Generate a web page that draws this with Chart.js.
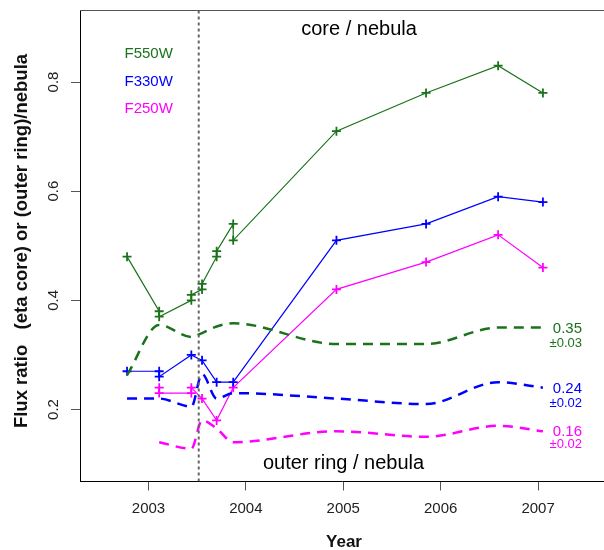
<!DOCTYPE html>
<html>
<head>
<meta charset="utf-8">
<script src="https://cdn.jsdelivr.net/npm/chart.js"></script>
<style>
  body { margin: 0; background: #fff; }
  canvas { display: block; }
</style>
</head>
<body>
<canvas id="fluxChart" width="604" height="550"></canvas>
<script>
// core / nebula (solid, + markers)
const f550Years = [2002.78, 2003.11, 2003.11, 2003.44, 2003.44, 2003.55, 2003.55, 2003.70, 2003.70, 2003.87, 2003.87, 2004.93, 2005.85, 2006.59, 2007.05];
const f550Core = [0.48, 0.38, 0.37, 0.40, 0.41, 0.42, 0.43, 0.48, 0.49, 0.54, 0.51, 0.71, 0.78, 0.83, 0.78];

const f330Years = [2002.78, 2003.11, 2003.11, 2003.44, 2003.55, 2003.70, 2003.87, 2004.93, 2005.85, 2006.59, 2007.05];
const f330Core = [0.27, 0.27, 0.26, 0.30, 0.29, 0.25, 0.25, 0.51, 0.54, 0.59, 0.58];

const f250Years = [2003.11, 2003.11, 2003.44, 2003.44, 2003.55, 2003.70, 2003.87, 2004.93, 2005.85, 2006.59, 2007.05];
const f250Core = [0.24, 0.23, 0.23, 0.24, 0.22, 0.18, 0.24, 0.42, 0.47, 0.52, 0.46];

// outer ring / nebula (dashed)
const ringYears = [2002.78, 2003.11, 2003.44, 2003.55, 2003.70, 2003.87, 2004.93, 2005.85, 2006.59, 2007.05];
const f550Ring = [0.263, 0.355, 0.333, 0.34, 0.352, 0.358, 0.32, 0.32, 0.35, 0.35];
const f330Ring = [0.22, 0.22, 0.205, 0.265, 0.22, 0.23, 0.22, 0.21, 0.25, 0.24];
const f250RingYears = [2003.11, 2003.44, 2003.55, 2003.70, 2003.87, 2004.93, 2005.85, 2006.59, 2007.05];
const f250Ring = [0.14, 0.128, 0.18, 0.165, 0.14, 0.16, 0.15, 0.17, 0.16];

const dividerYear = 2003.516;
const xTicks = [2003, 2004, 2005, 2006, 2007];
const yTicks = [0.2, 0.4, 0.6, 0.8];
const xMin = 2002.297, xMax = 2007.677;
const yMin = 0.068, yMax = 0.932;

const GREEN = "#1a731a";
const BLUE = "#0000ff";
const MAGENTA = "#ff00ff";
const FONT = '"Liberation Sans", Arial, Helvetica, sans-serif';

const pts = (xs, ys) => xs.map((x, i) => ({ x: x, y: ys[i] }));

const coreSet = (label, xs, ys, color) => ({
  label: label,
  data: pts(xs, ys),
  showLine: true,
  borderColor: color,
  borderWidth: 1.2,
  pointStyle: "cross",
  pointRadius: 4.5,
  pointBorderWidth: 1.8,
  pointBorderColor: color,
  tension: 0,
});

const ringSet = (label, xs, ys, color) => ({
  label: label,
  data: pts(xs, ys),
  showLine: true,
  borderColor: color,
  borderWidth: 2.5,
  borderDash: [10, 7],
  pointRadius: 0,
  cubicInterpolationMode: "monotone",
});

// texts placed on the plot (R text() calls in the original)
const notes = [
  { text: "core / nebula", x: 359, y: 29, color: "#000", size: 20, align: "center" },
  { text: "outer ring / nebula", x: 343.5, y: 463, color: "#000", size: 20, align: "center" },
  { text: "F550W", x: 124.5, y: 54, color: GREEN, size: 15, align: "left" },
  { text: "F330W", x: 124.5, y: 82, color: BLUE, size: 15, align: "left" },
  { text: "F250W", x: 124.5, y: 109, color: MAGENTA, size: 15, align: "left" },
  { text: "0.35", x: 582, y: 328.5, color: GREEN, size: 15, align: "right" },
  { text: "±0.03", x: 582, y: 343, color: GREEN, size: 13, align: "right" },
  { text: "0.24", x: 582, y: 388.5, color: BLUE, size: 15, align: "right" },
  { text: "±0.02", x: 582, y: 403.5, color: BLUE, size: 13, align: "right" },
  { text: "0.16", x: 582, y: 431.5, color: MAGENTA, size: 15, align: "right" },
  { text: "±0.02", x: 582, y: 444.5, color: MAGENTA, size: 13, align: "right" },
];

const extras = {
  id: "extras",
  afterDraw(chart) {
    const ctx = chart.ctx;
    const area = chart.chartArea;
    const yScale = chart.scales.y;
    ctx.save();
    // top frame line
    ctx.strokeStyle = "#555";
    ctx.lineWidth = 1;
    ctx.beginPath();
    ctx.moveTo(area.left, area.top + 0.5);
    ctx.lineTo(area.right, area.top + 0.5);
    ctx.stroke();

    // y tick labels, rotated like R's default
    ctx.fillStyle = "#222";
    ctx.font = "15px " + FONT;
    ctx.textAlign = "center";
    ctx.textBaseline = "middle";
    yTicks.forEach((v) => {
      ctx.save();
      ctx.translate(53.5, yScale.getPixelForValue(v));
      ctx.rotate(-Math.PI / 2);
      ctx.fillText(v.toFixed(1), 0, 0);
      ctx.restore();
    });

    // axis titles
    ctx.fillStyle = "#111";
    ctx.font = "bold 18.5px " + FONT;
    ctx.save();
    ctx.translate(21.5, 241);
    ctx.rotate(-Math.PI / 2);
    ctx.fillText("Flux ratio   (eta core) or (outer ring)/nebula", 0, 0);
    ctx.restore();
    ctx.font = "bold 17px " + FONT;
    ctx.fillText("Year", 344, 542.5);

    notes.forEach((n) => {
      ctx.fillStyle = n.color;
      ctx.font = n.size + "px " + FONT;
      ctx.textAlign = n.align;
      ctx.fillText(n.text, n.x, n.y);
    });
    ctx.restore();
  },
};

const chart = new Chart(document.querySelector("#fluxChart"), {
  type: "scatter",
  data: {
    datasets: [
      {
        label: "divider",
        data: [{ x: dividerYear, y: yMin }, { x: dividerYear, y: yMax }],
        showLine: true,
        borderColor: "#666",
        borderWidth: 2,
        borderDash: [3, 3],
        pointRadius: 0,
      },
      ringSet("F550W ring", ringYears, f550Ring, GREEN),
      ringSet("F330W ring", ringYears, f330Ring, BLUE),
      ringSet("F250W ring", f250RingYears, f250Ring, MAGENTA),
      coreSet("F550W core", f550Years, f550Core, GREEN),
      coreSet("F330W core", f330Years, f330Core, BLUE),
      coreSet("F250W core", f250Years, f250Core, MAGENTA),
    ],
  },
  options: {
    responsive: false,
    animation: false,
    layout: { autoPadding: false, padding: { top: 10, right: 0, bottom: 0, left: 0 } },
    plugins: {
      legend: { display: false },
      tooltip: { enabled: false },
    },
    scales: {
      x: {
        type: "linear",
        min: xMin,
        max: xMax,
        afterBuildTicks: (s) => { s.ticks = xTicks.map((v) => ({ value: v })); },
        afterFit: (s) => { s.height = 68.5; },
        border: { color: "#000", width: 1 },
        grid: { drawOnChartArea: false, tickLength: 9, tickColor: "#555" },
        ticks: {
          padding: 9,
          color: "#222",
          font: { family: FONT, size: 15 },
          callback: (v) => String(v),
        },
      },
      y: {
        type: "linear",
        min: yMin,
        max: yMax,
        afterBuildTicks: (s) => { s.ticks = yTicks.map((v) => ({ value: v })); },
        afterFit: (s) => { s.width = 80; },
        border: { color: "#000", width: 1 },
        grid: { drawOnChartArea: false, tickLength: 9, tickColor: "#555" },
        ticks: { display: false },
      },
    },
  },
  plugins: [extras],
});
</script>
</body>
</html>
